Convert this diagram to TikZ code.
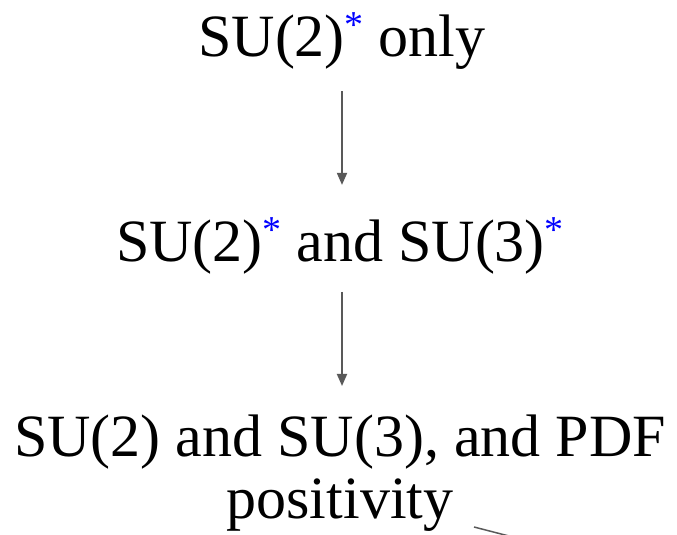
\documentclass[tikz,border=0pt]{standalone}
\usepackage{fontspec}
\setmainfont{Liberation Serif}
\usetikzlibrary{arrows.meta}
\definecolor{arrgray}{HTML}{595959}
\newcommand{\bstar}{\raisebox{19pt}{\fontsize{38}{38}\selectfont\textcolor{blue}{*}}}
\tikzset{
  lbl/.style={inner sep=0pt, font=\fontsize{60}{62}\selectfont, align=center},
  flow/.style={draw=arrgray, line width=1.8pt, -{Triangle[length=12pt,width=10pt]}}
}
\begin{document}
\begin{tikzpicture}[x=1pt, y=1pt]
  \clip (0,0) rectangle (677,535);

  \node[lbl, anchor=base] (only) at (342,478) {SU(2)\bstar{} only};
  \node[lbl, anchor=base] (both) at (340,273) {SU(2)\bstar{} and SU(3)\bstar};
  \node[lbl, anchor=north] (pdf) at (340,120) {SU(2) and SU(3), and PDF\\positivity};

  \draw[flow, shorten <=21pt, shorten >=33pt] (only.south -| 342,0) -- (both.north -| 342,0);
  \draw[flow, shorten <=17pt, shorten >=29pt] (both.south -| 342,0) -- (pdf.north -| 342,0);

  % line running off the page
  \coordinate (tail) at (474,8);
  \coordinate (cut) at (536,-8);
  \draw[arrgray, line width=1.5pt] (tail) -- (cut);
\end{tikzpicture}
\end{document}
